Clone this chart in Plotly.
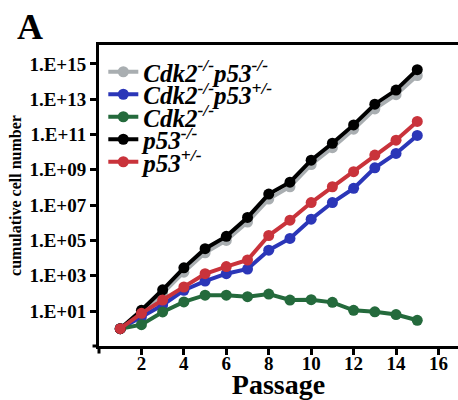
import plotly.graph_objects as go

passage = list(range(1, 16))

series_names = [
    "Cdk2<sup>-/-</sup>p53<sup>-/-</sup>",
    "Cdk2<sup>-/-</sup>p53<sup>+/-</sup>",
    "Cdk2<sup>-/-</sup>",
    "p53<sup>-/-</sup>",
    "p53<sup>+/-</sup>",
]

cdk2_p53_null = [1, 7.9e0, 1.0e2, 1.6e3, 2.0e4, 1.0e5, 1.1e6, 2.2e7, 1.1e8, 2.0e9, 1.8e10, 2.0e11, 2.8e12, 1.8e13, 2.2e14]
cdk2_p53_het = [1, 4.7e0, 2.2e1, 1.5e2, 5.0e2, 1.3e3, 2.4e3, 2.8e4, 1.3e5, 1.6e6, 1.4e7, 8.9e7, 1.3e9, 8.5e9, 8.9e10]
cdk2_null = [1, 1.7e0, 8.9e0, 3.3e1, 7.9e1, 7.9e1, 6.5e1, 9.1e1, 4.2e1, 4.4e1, 3.1e1, 1.1e1, 9.1e0, 6.3e0, 3.0e0]
p53_null = [1, 1.1e1, 1.6e2, 2.8e3, 3.4e4, 1.7e5, 2.0e6, 4.2e7, 2.0e8, 3.5e9, 3.2e10, 3.5e11, 5.2e12, 3.3e13, 4.7e14]
p53_het = [1, 7.4e0, 4.2e1, 2.3e2, 1.3e3, 3.3e3, 7.8e3, 1.9e5, 1.4e6, 1.4e7, 1.1e8, 7.8e8, 6.8e9, 4.8e10, 5.5e11]

series_values = [cdk2_p53_null, cdk2_p53_het, cdk2_null, p53_null, p53_het]
colors = ["#a9aeb1", "#2b36b8", "#246a3c", "#000000", "#c9333b"]

y_tickvals = [1e1, 1e3, 1e5, 1e7, 1e9, 1e11, 1e13, 1e15]
y_ticktext = ["1.E+01", "1.E+03", "1.E+05", "1.E+07", "1.E+09", "1.E+11", "1.E+13", "1.E+15"]
x_tickvals = [2, 4, 6, 8, 10, 12, 14, 16]

SERIF = "Liberation Serif"
W, H = 458, 400
ML, MR, MT, MB = 99, 0, 45, 54
PLOT_H = H - MT - MB

# legend row centres (pixels from top of figure)
legend_rows_px = [72, 94.5, 117, 139.5, 162]

fig = go.Figure()
legend_layout = {}
for i, (name, vals, col) in enumerate(zip(series_names, series_values, colors)):
    lname = "legend" if i == 0 else f"legend{i + 1}"
    fig.add_trace(go.Scatter(
        x=passage, y=vals, name=name, mode="lines+markers",
        line=dict(color=col, width=4),
        marker=dict(color=col, size=11),
        legend=lname,
    ))
    legend_layout[lname] = dict(
        x=0.012, y=(H - MB - legend_rows_px[i]) / PLOT_H,
        xanchor="left", yanchor="middle",
        bgcolor="rgba(0,0,0,0)", borderwidth=0,
        font=dict(family=SERIF, size=25, color="black", style="italic", weight="bold"),
        itemwidth=30,
    )

fig.update_layout(
    template="none",
    width=W, height=H,
    margin=dict(l=ML, r=MR, t=MT, b=MB, pad=0),
    paper_bgcolor="white", plot_bgcolor="white",
    showlegend=True,
    xaxis=dict(
        range=[0, 16.92], tickvals=x_tickvals, automargin=False,
        showline=True, linecolor="black", linewidth=3, mirror=True,
        ticks="outside", ticklen=6, tickwidth=3, tickcolor="black",
        ticklabelstandoff=-8,
        showgrid=False, zeroline=False,
        tickfont=dict(family=SERIF, size=19, color="black", weight="bold"),
        title=dict(text="Passage", font=dict(family=SERIF, size=28, color="black", weight="bold"), standoff=3),
    ),
    yaxis=dict(
        type="log", range=[-0.98, 16.07], automargin=False,
        tickvals=y_tickvals, ticktext=y_ticktext,
        showline=True, linecolor="black", linewidth=3,
        ticks="outside", ticklen=6, tickwidth=3, tickcolor="black",
        showgrid=False, zeroline=False,
        tickfont=dict(family=SERIF, size=19, color="black", weight="bold"),
        title=dict(text="cumulative cell number", font=dict(family=SERIF, size=16, color="black", weight="bold"), standoff=4),
    ),
    **legend_layout,
)

# panel label
fig.add_annotation(
    text="<b>A</b>", xref="paper", yref="paper",
    x=(30 - ML) / (W - ML - MR), y=(H - MB - 27) / PLOT_H,
    xanchor="center", yanchor="middle", showarrow=False,
    font=dict(family=SERIF, size=36, color="black"),
)
# axis line extensions beyond the crossing
fig.add_shape(type="line", xref="paper", yref="paper", x0=-0.018, x1=0, y0=0, y1=0,
              line=dict(color="black", width=3))
fig.add_shape(type="line", xref="paper", yref="paper", x0=0, x1=0, y0=-0.025, y1=0,
              line=dict(color="black", width=3))

fig.write_html("out.html", config={"displayModeBar": False},
               post_script="document.body.style.margin='0';")
